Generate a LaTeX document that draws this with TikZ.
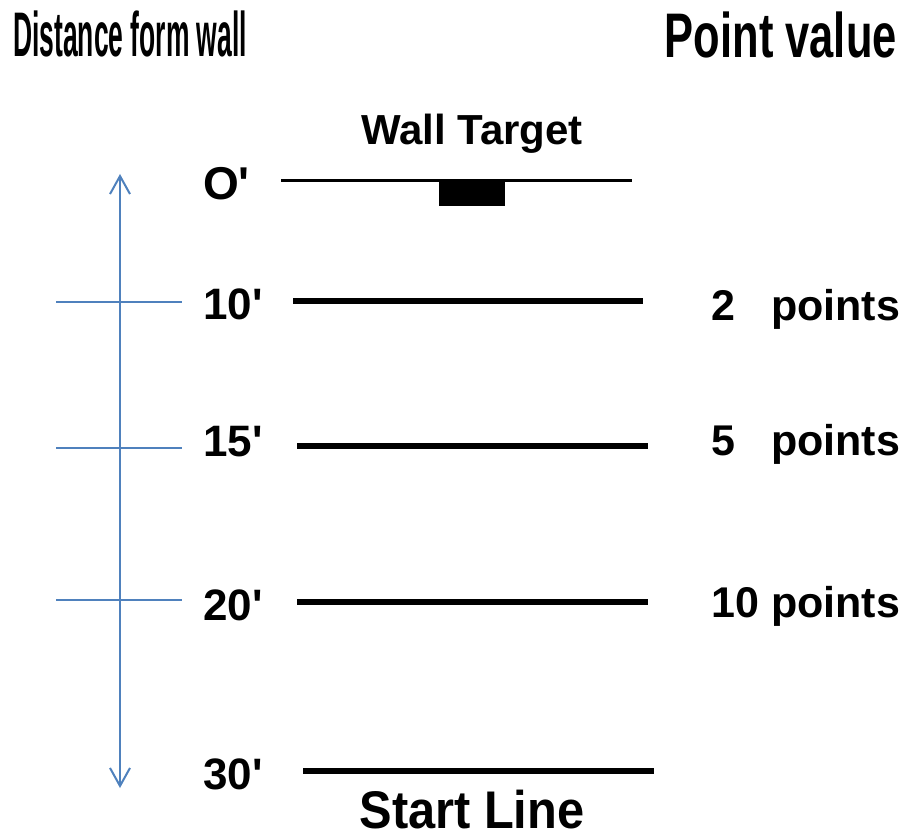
\documentclass[tikz,border=0pt]{standalone}
\usepackage{fontspec}
\setmainfont{Liberation Sans}
\usetikzlibrary{arrows.meta}
\definecolor{axisblue}{RGB}{79,129,189}
\newcommand{\fsz}[1]{\fontsize{#1}{#1}\selectfont}
\newcommand{\ft}{\textquotesingle}
\newcommand{\barwd}{6pt}
\newcommand{\ptlabel}[1]{\fsz{43}\bfseries\makebox[189pt][s]{#1}}

\begin{document}
\begin{tikzpicture}[x=1pt,y=-1pt]
        \useasboundingbox (0,0) rectangle (908,840);

        % headings
        \node (disthead) at (13,57) [anchor=base west, inner sep=0]
          {\scalebox{0.42}[1]{\fsz{63}\bfseries Distance form wall}};
        \node (pointhead) at (897,58) [anchor=base east, inner sep=0]
          {\scalebox{0.69}[1]{\fsz{63}\bfseries Point value}};
        \node (walltitle) at (472,145) [anchor=base, inner sep=0] {\fsz{42}\bfseries Wall Target};
        \node (starttitle) at (472,828) [anchor=base, inner sep=0]
          {\scalebox{0.92}[1]{\fsz{53}\bfseries Start Line}};

        % distances
        \node (d0) at (203,200) [anchor=base west, inner sep=0] {\fsz{46}\bfseries O\ft};
        \node (d10) at (203,319) [anchor=base west, inner sep=0] {\fsz{44}\bfseries 10\ft};
        \node (d15) at (203,456) [anchor=base west, inner sep=0] {\fsz{44}\bfseries 15\ft};
        \node (d20) at (203,620) [anchor=base west, inner sep=0] {\fsz{44}\bfseries 20\ft};
        \node (d30) at (203,789) [anchor=base west, inner sep=0] {\fsz{44}\bfseries 30\ft};

        % point values
        \node (p2) at (711,320) [anchor=base west, inner sep=0] {\ptlabel{2 points}};
        \node (p5) at (711,455) [anchor=base west, inner sep=0] {\ptlabel{5 points}};
        \node (p10) at (711,617) [anchor=base west, inner sep=0] {\ptlabel{10 points}};

        % lines
        \coordinate (w0a) at (281,181);  \coordinate (w0b) at (632,181);
        \coordinate (w10a) at (293,301); \coordinate (w10b) at (643,301);
        \coordinate (w15a) at (297,446); \coordinate (w15b) at (648,446);
        \coordinate (w20a) at (297,602); \coordinate (w20b) at (648,602);
        \coordinate (w30a) at (303,771); \coordinate (w30b) at (654,771);
        \draw[line width=3pt] (w0a) -- (w0b);
        \draw[line width=\barwd] (w10a) -- (w10b) (w15a) -- (w15b)
        (w20a) -- (w20b) (w30a) -- (w30b);
        \node (target) at (472,193.5) [fill, minimum width=66pt, minimum height=25pt, inner sep=0] {};

        % distance axis
        \coordinate (axtop) at (120,174);
        \coordinate (axbot) at (120,788);
        \coordinate (t10a) at (56,302);  \coordinate (t10b) at (182,302);
        \coordinate (t15a) at (56,448);  \coordinate (t15b) at (182,448);
        \coordinate (t20a) at (56,600);  \coordinate (t20b) at (182,600);
        \draw[axisblue, line width=2pt, {Straight Barb[length=18pt,width=20pt]}-{Straight Barb[length=18pt,width=20pt]}]
        (axbot) -- (axtop);
        \draw[axisblue, line width=2pt] (t10a) -- (t10b) (t15a) -- (t15b) (t20a) -- (t20b);
\end{tikzpicture}
\end{document}
